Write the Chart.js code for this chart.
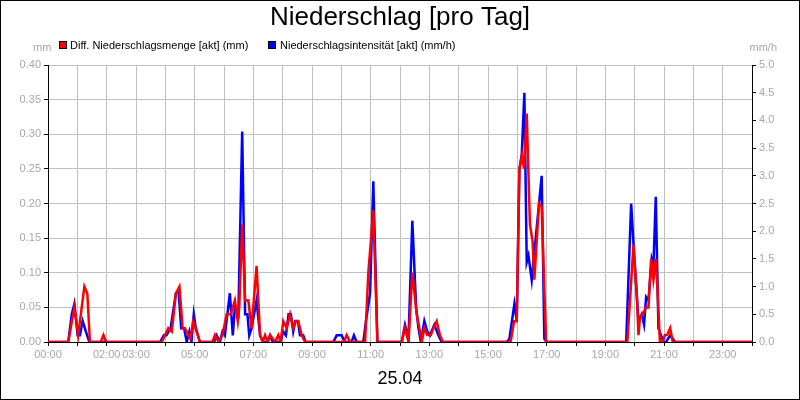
<!DOCTYPE html>
<html><head><meta charset="utf-8">
<script src="https://cdn.jsdelivr.net/npm/chart.js@4"></script>
<style>body{margin:0;background:#fff}#w{width:800px;height:400px;position:relative}</style>
</head><body><div id="w"><canvas id="c" width="800" height="400"></canvas></div>
<script>
const redTimes=[0,0.69,0.90,1.03,1.24,1.34,1.43,1.80,1.89,1.98,3.88,3.99,4.10,4.22,4.36,4.48,4.59,4.67,4.78,4.86,4.95,5.07,5.18,5.61,5.69,5.81,5.95,6.09,6.23,6.37,6.47,6.52,6.62,6.72,6.83,6.94,7.11,7.23,7.32,7.40,7.49,7.57,7.74,7.85,7.93,8.02,8.14,8.25,8.36,8.45,8.53,8.65,8.76,10.09,10.18,10.30,10.81,10.92,11.09,11.23,12.06,12.17,12.29,12.42,12.57,12.66,12.74,12.83,12.93,13.05,13.14,13.25,13.36,13.46,15.77,15.89,15.98,16.07,16.16,16.23,16.32,16.43,16.52,16.58,16.74,16.83,16.98,19.75,19.96,20.07,20.13,20.18,20.27,20.39,20.47,20.56,20.64,20.73,20.86,20.96,21.03,21.11,21.21,21.30,24];
const redValues=[0,0,0.05,0.01,0.08,0.07,0,0,0.01,0,0,0.01,0.02,0.015,0.07,0.08,0.02,0.02,0.01,0.005,0.03,0.015,0,0,0.01,0,0.01,0.04,0.04,0.06,0.03,0.05,0.17,0.06,0.06,0.02,0.11,0.01,0,0.01,0,0.01,0,0.01,0,0.03,0.02,0.04,0.02,0.03,0.03,0.01,0,0,0.01,0,0,0.1,0.19,0,0,0.02,0,0.1,0.04,0.02,0,0.02,0.01,0.01,0.02,0.03,0.01,0,0,0.03,0.03,0.25,0.27,0.25,0.33,0.17,0.145,0.09,0.2,0.195,0,0,0.14,0.07,0.01,0.035,0.04,0.05,0.05,0.12,0.09,0.12,0,0,0.01,0.01,0.02,0,0];
const blueTimes=[0,0.69,0.81,0.90,1.01,1.09,1.18,1.29,1.41,3.82,3.95,4.04,4.18,4.36,4.45,4.54,4.64,4.73,4.82,4.89,4.97,5.04,5.18,5.66,5.75,5.86,5.95,6.03,6.20,6.30,6.37,6.49,6.62,6.72,6.80,6.86,6.94,7.11,7.23,7.34,7.48,7.57,7.66,7.93,8.02,8.11,8.20,8.28,8.36,8.43,8.52,8.59,8.70,8.78,9.73,9.84,10.01,10.12,10.35,10.43,10.52,10.75,10.84,10.98,11.09,11.23,12.06,12.17,12.29,12.42,12.55,12.63,12.71,12.83,12.93,13.02,13.17,13.31,13.42,15.64,15.73,15.90,15.98,16.07,16.15,16.24,16.32,16.38,16.49,16.74,16.83,16.92,17.0,19.71,19.88,19.99,20.13,20.24,20.32,20.39,20.47,20.58,20.64,20.72,20.81,20.98,21.07,21.21,21.30,21.38,24];
const blueValues=[0,0,0.5,0.69,0.12,0.12,0.38,0.19,0,0,0.12,0.12,0.25,0.88,0.94,0.25,0.25,0,0.19,0,0.5,0.25,0,0,0.12,0,0.19,0.12,0.88,0.12,0.62,0.5,3.8,0.5,0.5,0.12,0.25,0.75,0.12,0,0,0.12,0,0,0.19,0.12,0.5,0.5,0.19,0.38,0.38,0.12,0.12,0,0,0.12,0.12,0,0,0.12,0,0,0.38,0.88,2.9,0,0,0.31,0.06,2.19,0.62,0.25,0,0.38,0.19,0.12,0.31,0.12,0,0,0.06,0.69,0.38,3.12,3.38,4.5,1.44,1.56,1.12,2.5,3.0,0.06,0,0,2.5,1.5,0.38,0.5,0.31,0.81,0.75,1.5,1.38,2.62,0.25,0,0,0.12,0.06,0,0];
const xTickLabels=['00:00','02:00','03:00','05:00','07:00','09:00','11:00','13:00','15:00','17:00','19:00','21:00','23:00'];
const redLabel='Diff. Niederschlagsmenge [akt] (mm)';
const blueLabel='Niederschlagsintensität [akt] (mm/h)';
const toPts=(t,v)=>t.map((x,i)=>({x:x,y:v[i]}));
const grey='#a8a8a8';
const deco={id:'deco',afterDraw(ch){const c=ch.ctx,a=ch.chartArea;c.save();
c.strokeStyle='#000';c.lineWidth=1;c.strokeRect(0.5,0.5,799,399);
c.fillStyle='#000';c.font='26px Arial, "Liberation Sans", sans-serif';c.textAlign='center';c.textBaseline='middle';c.fillText('Niederschlag [pro Tag]',400,18);
c.font='18px Arial, "Liberation Sans", sans-serif';c.fillText('25.04',400,379);
c.font='11px Arial, "Liberation Sans", sans-serif';c.textAlign='left';
c.fillStyle='#f00';c.fillRect(59,41,8,8);c.strokeStyle='#000';c.strokeRect(59.5,41.5,7,7);c.fillStyle='#000';c.fillText(redLabel,70,45.5);
c.fillStyle='#00f';c.fillRect(268,41,8,8);c.strokeRect(268.5,41.5,7,7);c.fillStyle='#000';c.fillText(blueLabel,280,45.5);
c.fillStyle=grey;c.textAlign='left';c.fillText('mm',33,48);c.textAlign='right';c.fillText('mm/h',777,48);
c.restore();}};
new Chart(document.getElementById('c'),{type:'line',
data:{datasets:[
{label:redLabel,data:toPts(redTimes,redValues),borderColor:'#ff0000',borderWidth:2.5,pointRadius:0,yAxisID:'y',order:0,tension:0},
{label:blueLabel,data:toPts(blueTimes,blueValues),borderColor:'#0000ff',borderWidth:2.5,pointRadius:0,yAxisID:'y1',order:1,tension:0}]},
options:{responsive:false,animation:false,layout:{padding:{top:65,left:0,right:0,bottom:0}},
plugins:{legend:{display:false},title:{display:false},tooltip:{enabled:false}},
scales:{
x:{type:'linear',min:0,max:24,afterFit(s){s.height=58;},afterBuildTicks(s){s.ticks=[];for(let i=0;i<=24;i++)s.ticks.push({value:i});},
ticks:{color:grey,font:{size:11,family:'Arial'},maxRotation:0,autoSkip:false,padding:2,callback(v){const l=String(v).padStart(2,'0')+':00';return xTickLabels.includes(l)?l:'';}},
grid:{color:'#c0c0c0',tickLength:4,tickColor:'#000'},border:{color:'#000'}},
y:{position:'left',min:0,max:0.4,afterFit(s){s.width=48;},ticks:{stepSize:0.05,color:grey,font:{size:11,family:'Arial'},callback:v=>v.toFixed(2)},grid:{color:'#c0c0c0',tickLength:4,tickColor:'#000'},border:{color:'#000'}},
y1:{position:'right',min:0,max:5,afterFit(s){s.width=48;},ticks:{stepSize:0.5,color:grey,font:{size:11,family:'Arial'},callback:v=>v.toFixed(1)},grid:{drawOnChartArea:false,tickLength:4,tickColor:'#000'},border:{color:'#000'}}}},
plugins:[deco]});
</script></body></html>
